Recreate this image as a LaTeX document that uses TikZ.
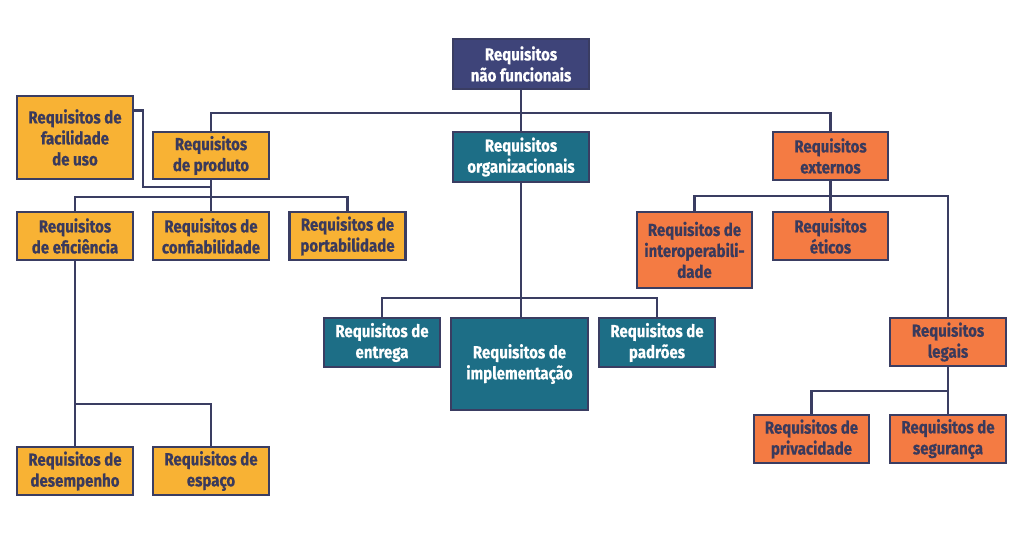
\documentclass[tikz,border=0pt]{standalone}
\usepackage{fontspec}
\setmainfont{Fira Sans}[FakeStretch=0.86, FakeBold=0.5]
\definecolor{navy}{HTML}{3E4479}
\definecolor{teal}{HTML}{1D6E86}
\definecolor{yel}{HTML}{F8B234}
\definecolor{ora}{HTML}{F47B43}
\definecolor{edge}{HTML}{3A3D62}
\definecolor{txt}{HTML}{3A3A5C}
\tikzset{
  box/.style={draw=edge, line width=2.6pt, align=center, inner sep=0pt,
    font=\fontsize{17.5}{21}\selectfont\bfseries},
  ybox/.style={box, fill=yel, text=txt, minimum width=116pt, minimum height=48pt},
  obox/.style={box, fill=ora, text=txt, minimum width=115pt, minimum height=48pt},
  tbox/.style={box, fill=teal, text=white, minimum width=116pt, minimum height=49pt},
  nbox/.style={box, fill=navy, text=white, minimum width=136pt, minimum height=50pt},
  link/.style={draw=edge, line width=2.8pt}
}
\begin{document}
\begin{tikzpicture}[x=1pt, y=-1pt]
\useasboundingbox[fill=white] (0,0) rectangle (1012,551);
% nodes
\node[nbox] (top) at (521,64) {Requisitos\\não funcionais};
\node[tbox, minimum width=136pt, minimum height=50pt] (org) at (521,157) {Requisitos\\organizacionais};
\node[ybox, minimum height=47pt] (prod) at (211,155.5) {Requisitos\\de produto};
\node[ybox, minimum height=83pt] (fac) at (75,137.5) {Requisitos de\\facilidade\\de uso};
\node[ybox] (efi) at (75,236) {Requisitos\\de eficiência};
\node[ybox] (conf) at (211,236) {Requisitos de\\confiabilidade};
\node[ybox] (port) at (347.5,236) {Requisitos de\\portabilidade};
\node[ybox] (desemp) at (75,471) {Requisitos de\\desempenho};
\node[ybox] (espaco) at (211,471) {Requisitos de\\espaço};
\node[tbox] (entrega) at (382,342.5) {Requisitos de\\entrega};
\node[tbox, minimum width=137pt, minimum height=92pt] (impl) at (519.5,364) {Requisitos de\\implementação};
\node[tbox] (padroes) at (657,342.5) {Requisitos de\\padrões};
\node[obox] (ext) at (830.5,156) {Requisitos\\externos};
\node[obox, minimum height=76pt] (inter) at (694.5,250) {Requisitos de\\interoperabili-\\dade};
\node[obox] (eticos) at (830.5,236) {Requisitos\\éticos};
\node[obox, minimum width=116pt] (legais) at (948,342) {Requisitos\\legais};
\node[obox] (priv) at (811.5,439) {Requisitos de\\privacidade};
\node[obox, minimum width=116pt] (seg) at (948,439) {Requisitos de\\segurança};
% bar levels
\coordinate (b1) at (0,113);
\coordinate (b2) at (0,197);
\coordinate (fk) at (143,187);
\coordinate (b3) at (0,404);
\coordinate (b4) at (0,298);
\coordinate (b5) at (0,196);
\coordinate (b6) at (0,391);
% connectors
\draw[link] (top.south) -- (org.north);
\draw[link] (prod.north) -- (prod.north |- b1) -- (ext.north |- b1) -- (ext.north);
\draw[link] (prod.south) -- (conf.north);
\draw[link] (efi.north) -- (efi.north |- b2) -- (port.north |- b2) -- (port.north);
\draw[link] ([yshift=-16pt]fac.north east) -| (fk) -- (prod.south |- fk);
\draw[link] (efi.south) -- (desemp.north);
\draw[link] (efi.south |- b3) -| (espaco.north);
\draw[link] (org.south) -- (org.south |- impl.north);
\draw[link] (entrega.north) -- (entrega.north |- b4) -- (padroes.north |- b4) -- (padroes.north);
\draw[link] (ext.south) -- (eticos.north);
\draw[link] (inter.north) -- (inter.north |- b5) -- (legais.north |- b5) -- (legais.north);
\draw[link] (legais.south) -- (seg.north);
\draw[link] (priv.north) -- (priv.north |- b6) -- (seg.north |- b6);
\end{tikzpicture}
\end{document}
